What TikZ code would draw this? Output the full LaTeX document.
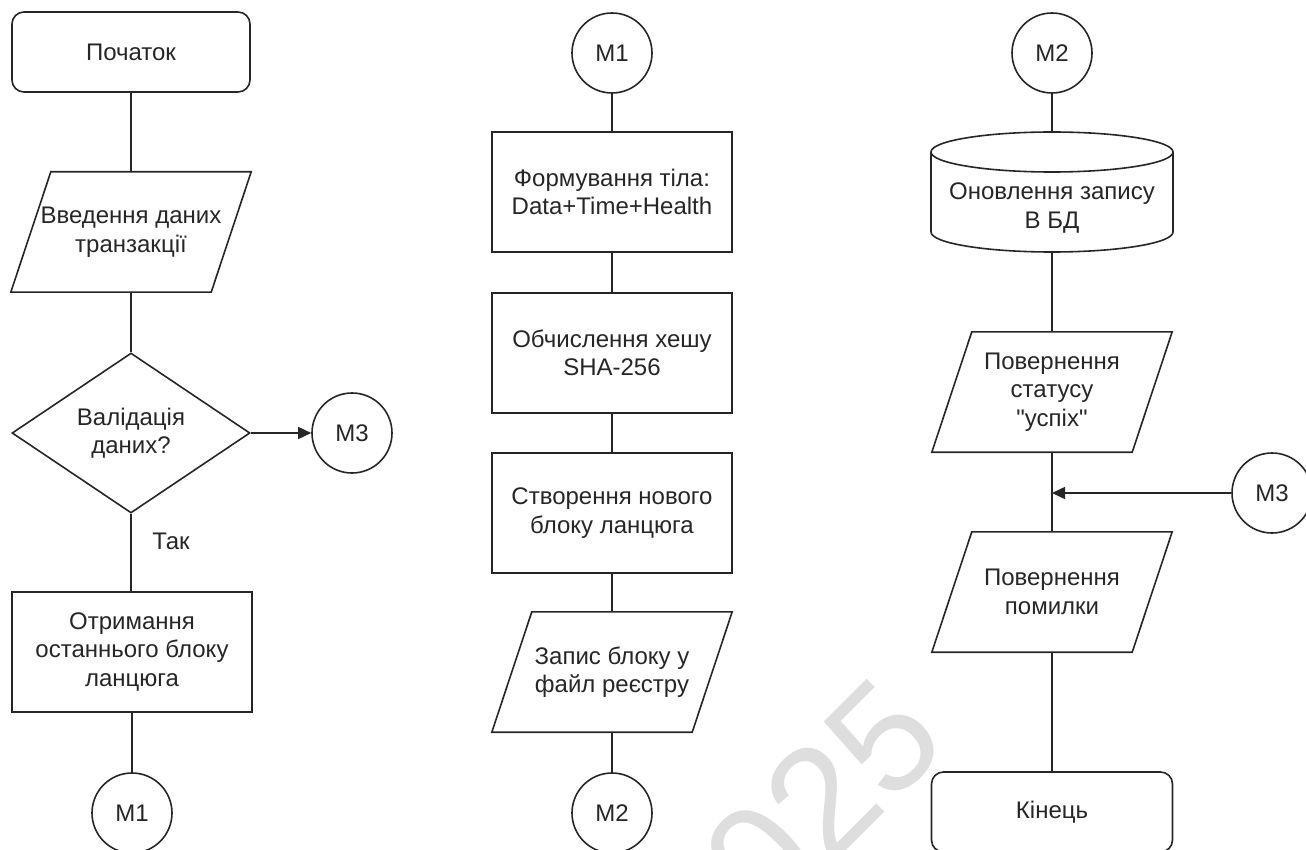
\documentclass[tikz,border=0pt]{standalone}
\usepackage{fontspec}
\setmainfont{Liberation Sans}[Ligatures=TeXOff]
\usetikzlibrary{arrows.meta,shapes.geometric}
\definecolor{ink}{HTML}{262626}
\definecolor{txt}{HTML}{262626}
\definecolor{wm}{HTML}{DEDEDE}

% parallelogram outline around a (borderless) rectangular node
\newcommand\ioframe[1]{%
  \draw[shapeline] ([xshift=20pt]#1.north west) -- ([xshift=20pt]#1.north east)
    -- ([xshift=-20pt]#1.south east) -- ([xshift=-20pt]#1.south west) -- cycle;}

\begin{document}
\begin{tikzpicture}[x=1pt,y=-1pt,
  every node/.style={font=\fontsize{24}{28.5}\selectfont, text=txt, align=center, inner sep=0pt},
  shapeline/.style={draw=ink, line width=1.6pt},
  terminal/.style={shapeline, rectangle, rounded corners=12pt, minimum width=238pt, minimum height=80pt},
  procbox/.style={shapeline, rectangle, minimum width=240pt, minimum height=120pt},
  iobox/.style={rectangle, minimum width=200pt, minimum height=120pt},
  decision/.style={shapeline, diamond, minimum width=238pt, minimum height=160pt},
  connector/.style={shapeline, circle, minimum size=80pt},
  flow/.style={draw=ink, line width=1.6pt},
  arrowflow/.style={flow, -{Triangle[length=13pt,width=12pt]}}
]
\clip (0,0) rectangle (1306,850);

% watermark
\node[font=\fontsize{155}{155}\selectfont, text=wm, rotate=45] (wmark) at (792,830) {2025};

% ---------- column 1 ----------
\node[terminal] (start) at (131,52) {Початок};
\node[iobox] (input) at (131,232) {Введення даних\\транзакції};
\ioframe{input}
\node[decision] (valid) at (131,433) {Валідація\\даних?};
\node[connector] (mthreeA) at (352,433) {M3};
\node (yes) at (171,541) {Так};
\node[procbox] (last) at (132,652) {Отримання\\останнього блоку\\ланцюга};
\node[connector] (moneA) at (132,813) {M1};

\draw[flow] (start) -- (input);
\draw[flow] (input) -- (valid);
\draw[arrowflow] (valid.east) -- (mthreeA.west);
\draw[flow] (valid.south) -- (last.north -| valid.south);
\draw[flow] (last) -- (moneA);

% ---------- column 2 ----------
\node[connector] (moneB) at (612,53) {M1};
\node[procbox] (body) at (612,192) {Формування тіла:\\Data+Time+Health};
\node[procbox] (hash) at (612,353) {Обчислення хешу\\SHA-256};
\node[procbox] (newblk) at (612,513) {Створення нового\\блоку ланцюга};
\node[iobox] (write) at (612,672) {Запис блоку у\\файл реєстру};
\ioframe{write}
\node[connector] (mtwoA) at (612,813) {M2};

\draw[flow] (moneB) -- (body);
\draw[flow] (body) -- (hash);
\draw[flow] (hash) -- (newblk);
\draw[flow] (newblk) -- (write);
\draw[flow] (write) -- (mtwoA);

% ---------- column 3 ----------
\node[connector] (mtwoB) at (1052,53) {M2};
% database cylinder
\node[rectangle, minimum width=242pt, minimum height=120pt] (db) at (1052,192) {};
\draw[shapeline] (1052,152) ellipse [x radius=121, y radius=20];
\draw[shapeline] (931,152) -- (931,232) arc[start angle=180, end angle=0, x radius=121, y radius=20] -- (1173,152);
\node (dbtext) at (1052,208) {Оновлення запису\\В БД};
\node[iobox] (ok) at (1052,392) {Повернення\\статусу\\"успіх"};
\ioframe{ok}
\node[connector] (mthreeB) at (1272,493) {M3};
\coordinate (join) at (1052,493);
\node[iobox] (err) at (1052,592) {Повернення\\помилки};
\ioframe{err}
\node[terminal, minimum width=241pt] (finish) at (1052,812) {Кінець};

\draw[flow] (mtwoB) -- (db);
\draw[flow] (db) -- (ok);
\draw[flow] (ok) -- (err);
\draw[arrowflow] (mthreeB.west) -- (join);
\draw[flow] (err) -- (finish);
\end{tikzpicture}
\end{document}
